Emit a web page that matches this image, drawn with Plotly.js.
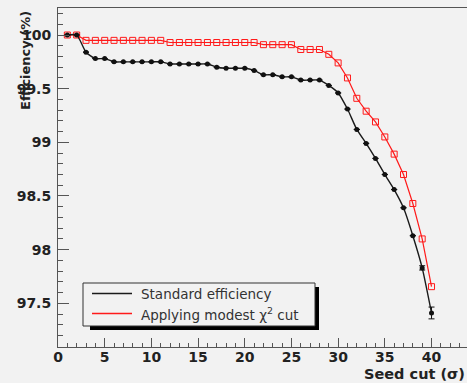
<!DOCTYPE html>
<html>
<head>
<meta charset="utf-8">
<script src="https://cdn.plot.ly/plotly-3.0.1.min.js"></script>
<style>html,body{margin:0;padding:0;background:#f2f2f2;}#chart{width:467px;height:383px;}</style>
</head>
<body>
<div id="chart"></div>
<script>
const seedCut = [1,2,3,4,5,6,7,8,9,10,11,12,13,14,15,16,17,18,19,20,21,22,23,24,25,26,27,28,29,30,31,32,33,34,35,36,37,38,39,40];
const standardEff = [100,100,99.84,99.78,99.78,99.75,99.75,99.75,99.75,99.75,99.75,99.73,99.73,99.73,99.73,99.73,99.70,99.69,99.69,99.69,99.67,99.63,99.63,99.61,99.61,99.58,99.58,99.58,99.53,99.46,99.31,99.12,98.99,98.85,98.70,98.56,98.39,98.13,97.83,97.41];
const standardErr = [0,0,0,0,0,0,0,0,0,0,0,0,0,0,0,0,0,0,0,0,0,0,0,0,0,0,0,0,0,0,0,0,0,0,0,0,0,0,0.02,0.055];
const chi2Eff = [100,100,99.95,99.95,99.95,99.95,99.95,99.95,99.95,99.95,99.95,99.93,99.93,99.93,99.93,99.93,99.93,99.93,99.93,99.93,99.93,99.91,99.91,99.91,99.91,99.865,99.865,99.865,99.82,99.74,99.60,99.41,99.29,99.19,99.05,98.89,98.70,98.43,98.10,97.655];
const seriesNames = ["Standard efficiency", "Applying modest \u03c7<sup>2</sup> cut"];
const seriesColors = ['#1a1a1a', '#ff1a1a'];
const xTitle = "Seed cut (\u03c3)";
const yTitle = "Efficiency (%)";

const W = 467, H = 383;
const L = 58, R = 0, T = 8, B = 36;
const pw = W - L - R, ph = H - T - B;
const px = v => (v - L) / pw;
const py = v => (H - B - v) / ph;

const traces = [
  {x: seedCut, y: chi2Eff, mode: 'lines+markers', name: seriesNames[1], showlegend: false,
   line: {color: seriesColors[1], width: 1.2},
   marker: {symbol: 'square-open', size: 6, color: seriesColors[1], line: {width: 1}}},
  {x: seedCut, y: standardEff, mode: 'lines+markers', name: seriesNames[0], showlegend: false,
   line: {color: seriesColors[0], width: 1.4, shape: 'spline', smoothing: 0.6},
   marker: {symbol: 'circle', size: 5, color: '#111'},
   error_y: {type: 'data', array: standardErr, visible: true, color: '#111', thickness: 1, width: 3}}
];

// Legend (ROOT-style box with drop shadow)
const legBox = {x0: 83, x1: 315, y0: 283, y1: 326};
const legRows = [293.5, 313.5];
const shapes = [
  {type: 'rect', xref: 'paper', yref: 'paper', x0: px(legBox.x0 + 7), x1: px(legBox.x1 + 4),
   y0: py(legBox.y1 + 4), y1: py(legBox.y0 + 4), fillcolor: '#000', line: {width: 0}, layer: 'above'},
  {type: 'rect', xref: 'paper', yref: 'paper', x0: px(legBox.x0), x1: px(legBox.x1),
   y0: py(legBox.y1), y1: py(legBox.y0), fillcolor: '#f2f2f2', line: {width: 1, color: '#333'}, layer: 'above'}
];
const annotations = [
  {text: yTitle, xref: 'paper', yref: 'paper', x: px(25.5), y: py(9), xanchor: 'center', yanchor: 'top',
   textangle: -90, showarrow: false, font: {family: 'DejaVu Sans', size: 13, color: '#222', weight: 'bold'}},
  {text: xTitle, xref: 'paper', yref: 'paper', x: px(467), y: py(374), xanchor: 'right', yanchor: 'middle',
   showarrow: false, font: {family: 'DejaVu Sans', size: 14.5, color: '#222', weight: 'bold'}}
];
seriesNames.forEach((name, i) => {
  shapes.push({type: 'line', xref: 'paper', yref: 'paper', x0: px(92), x1: px(132), y0: py(legRows[i]), y1: py(legRows[i]),
               line: {color: seriesColors[i], width: 1.3}, layer: 'above'});
  annotations.push({text: name, xref: 'paper', yref: 'paper', x: px(139), y: py(legRows[i]), xanchor: 'left', yanchor: 'middle',
                    showarrow: false, font: {family: 'DejaVu Sans', size: 13.5, color: '#333'}});
});

const tickFont = {family: 'DejaVu Sans', size: 14, color: '#222', weight: 'bold'};
const layout = {
  width: W, height: H,
  margin: {l: L, r: R, t: T, b: B, pad: 0},
  paper_bgcolor: '#f2f2f2', plot_bgcolor: '#f2f2f2',
  font: {family: 'DejaVu Sans', color: '#222'},
  showlegend: false,
  xaxis: {range: [0, 43.8], showline: true, linecolor: '#555', linewidth: 1, mirror: true,
          ticks: 'inside', ticklen: 9, tickwidth: 1, tickcolor: '#555', dtick: 5, tick0: 0,
          minor: {dtick: 1, ticks: 'inside', ticklen: 4, tickcolor: '#555', showgrid: false},
          showgrid: false, zeroline: false, tickfont: tickFont, ticklabelstandoff: -3},
  yaxis: {range: [97.0928, 100.2516], showline: true, linecolor: '#555', linewidth: 1,
          ticks: 'inside', ticklen: 11, tickwidth: 1, tickcolor: '#555', dtick: 0.5, tick0: 97.5,
          minor: {dtick: 0.1, ticks: 'inside', ticklen: 5, tickcolor: '#555', showgrid: false},
          showgrid: false, zeroline: false, tickfont: tickFont, ticklabelstandoff: 3},
  shapes: shapes,
  annotations: annotations
};

Plotly.newPlot('chart', traces, layout, {displayModeBar: false, staticPlot: true});
</script>
</body>
</html>
